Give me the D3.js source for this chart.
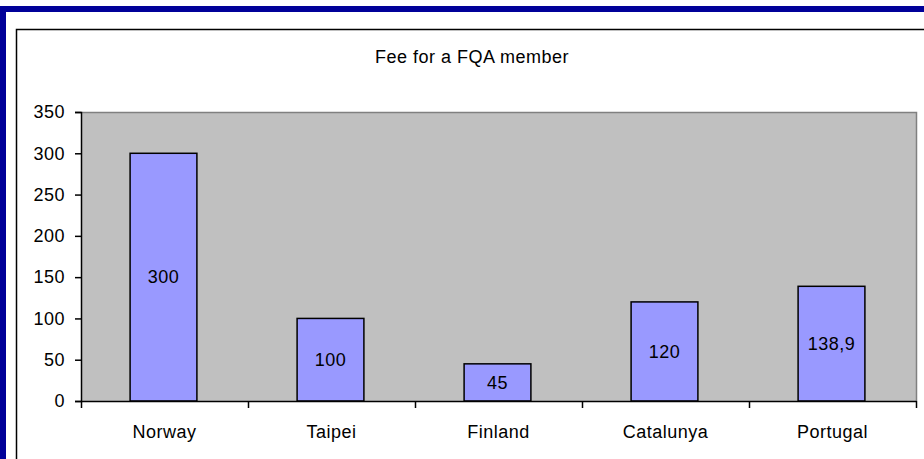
<!DOCTYPE html>
<html>
<head>
<meta charset="utf-8">
<script src="https://cdn.jsdelivr.net/npm/d3@7"></script>
<style>
  body { margin: 0; background: #fff; }
  svg text { font-family: "Liberation Sans", Arial, sans-serif; fill: #000; }
</style>
</head>
<body>
<script>
// data
var countries = ["Norway", "Taipei", "Finland", "Catalunya", "Portugal"];
var fees = [300, 100, 45, 120, 138.9];
var feeLabels = ["300", "100", "45", "120", "138,9"];
var yTicks = [0, 50, 100, 150, 200, 250, 300, 350];
var title = "Fee for a FQA member";

var width = 924, height = 459;
var fontSize = "18px", spacing = "0.5px";
var svg = d3.select("body").append("svg").attr("width", width).attr("height", height);

// outer blue frame (top + left visible)
svg.append("rect").attr("x", 0).attr("y", 6).attr("width", width).attr("height", 6).attr("fill", "#000099");
svg.append("rect").attr("x", 0).attr("y", 6).attr("width", 6).attr("height", height).attr("fill", "#000099");

// chart area border
svg.append("rect").attr("x", 16.5).attr("y", 29.5).attr("width", 930).attr("height", 460)
    .attr("fill", "#fff").attr("stroke", "#000").attr("stroke-width", 1.5);

var plot = {left: 81, right: 916, top: 112, bottom: 401};

var x = d3.scaleBand().domain(countries).range([plot.left, plot.right]).padding(0);
var xEdge = d3.scaleLinear().domain([0, countries.length]).range([plot.left, plot.right]);
var y = d3.scaleLinear().domain([0, 350]).range([plot.bottom, plot.top]);

// plot area
svg.append("rect").attr("x", plot.left).attr("y", plot.top)
    .attr("width", plot.right - plot.left).attr("height", plot.bottom - plot.top)
    .attr("fill", "#C0C0C0");
svg.append("path")
    .attr("d", "M" + plot.left + "," + (plot.top + 0.5) + "H" + (plot.right + 0.5) + "V" + plot.bottom)
    .attr("fill", "none").attr("stroke", "#808080").attr("stroke-width", 1.5);

// bars
var barW = x.bandwidth() * 0.4;
svg.selectAll("rect.bar").data(fees).enter().append("rect")
    .attr("class", "bar")
    .attr("x", function(d, i) { return x(countries[i]) + x.bandwidth() / 2 - barW / 2 - 1; })
    .attr("y", function(d) { return y(d); })
    .attr("width", barW)
    .attr("height", function(d) { return y(0) - y(d); })
    .attr("fill", "#9999FF").attr("stroke", "#000").attr("stroke-width", 1.5);

// value labels
svg.selectAll("text.val").data(fees).enter().append("text")
    .attr("class", "val")
    .attr("x", function(d, i) { return x(countries[i]) + x.bandwidth() / 2 - 1; })
    .attr("y", function(d) { return (y(d) + y(0)) / 2; })
    .attr("dy", "0.35em")
    .attr("text-anchor", "middle")
    .style("font-size", fontSize).style("letter-spacing", spacing)
    .text(function(d, i) { return feeLabels[i]; });

// y axis
var yAxis = svg.append("g").attr("transform", "translate(" + plot.left + ",0)")
    .call(d3.axisLeft(y).tickValues(yTicks).tickSize(6).tickPadding(10));
yAxis.selectAll("text").style("font-size", fontSize).style("letter-spacing", spacing);
yAxis.selectAll("line, path").attr("stroke", "#000").attr("stroke-width", 1.5);

// x axis: ticks at category edges
var xAxis = svg.append("g").attr("transform", "translate(0," + plot.bottom + ")")
    .call(d3.axisBottom(xEdge).tickValues(d3.range(countries.length + 1)).tickFormat("").tickSizeInner(7).tickSizeOuter(0));
xAxis.selectAll("line, path").attr("stroke", "#000").attr("stroke-width", 1.5);

svg.selectAll("text.cat").data(countries).enter().append("text")
    .attr("class", "cat")
    .attr("x", function(d) { return x(d) + x.bandwidth() / 2; })
    .attr("y", 438)
    .attr("text-anchor", "middle")
    .style("font-size", fontSize).style("letter-spacing", spacing)
    .text(function(d) { return d; });

// title
svg.append("text").attr("x", 472).attr("y", 63)
    .attr("text-anchor", "middle")
    .style("font-size", fontSize).style("letter-spacing", spacing)
    .text(title);
</script>
</body>
</html>
